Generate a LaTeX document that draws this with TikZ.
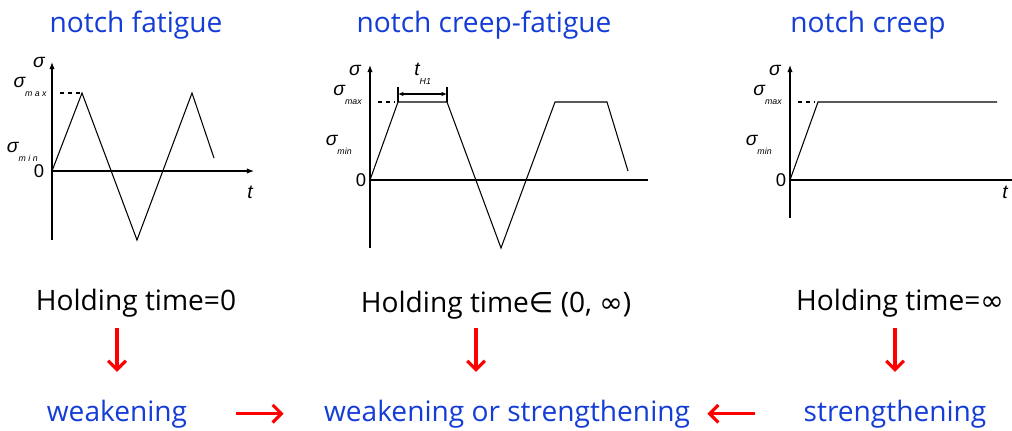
\documentclass[tikz,border=0pt]{standalone}
\usepackage{fontspec}
\setmainfont{Open Sans}
\newfontfamily\plotfont{Liberation Sans}
\newfontfamily\symfont{DejaVu Sans}
\usepackage{tikz}
\usetikzlibrary{positioning,arrows.meta}
\definecolor{titleblue}{RGB}{20,60,215}
\definecolor{arrowred}{RGB}{255,0,0}
\newcommand{\sigmasub}[1]{σ\raisebox{-0.9ex}{\fontsize{5}{6}\selectfont #1}}

\begin{document}
\begin{tikzpicture}[x=0.02cm,y=-0.02cm,
  bigtext/.style={font=\fontsize{16}{19}\selectfont,inner sep=0pt,anchor=base},
  bluetext/.style={bigtext,text=titleblue},
  axislabel/.style={font=\plotfont\itshape\fontsize{11}{13}\selectfont,inner sep=0pt,anchor=base},
  zerolabel/.style={font=\plotfont\fontsize{10.5}{12}\selectfont,inner sep=0pt},
  axis/.style={line width=0.6pt,-{Latex[length=4pt,width=3pt]}},
  wave/.style={line width=0.6pt},
  level/.style={line width=0.6pt,dash pattern=on 2.5pt off 2pt},
  redarrow/.style={draw=arrowred,line width=1.8pt,-{Straight Barb[length=5pt,width=10pt]}}]
  \useasboundingbox (0,0) rectangle (1012,430);
  % Titles
  \node[bluetext] (titlefat) at (136,32) {notch fatigue};
  \node[bluetext] (titlecf) at (484,32) {notch creep-fatigue};
  \node[bluetext] (titlecreep) at (868,32) {notch creep};
  % Plot 1: fatigue, no hold
  \begin{scope}[shift={(52,171)},yscale=-1]
    \draw[axis] (0,-69) -- (0,109);
    \draw[axis] (0,0) -- (202,0);
    \draw[wave] (0,0) -- (30,78) -- (85,-69) -- (140,78) -- (162,13);
    \draw[level] (8,78) -- (28,78);
    \node[axislabel] at (-13,104) {σ};
    \node[axislabel,anchor=base east] at (-5,84) {\sigmasub{m a x}};
    \node[axislabel,anchor=base east] at (-14,19) {\sigmasub{m i n}};
    \node[zerolabel] at (-13,0) {0};
    \node[axislabel] at (198,-27) {t};
  \end{scope}
  % Plot 2: creep-fatigue, hold at peak
  \begin{scope}[shift={(370,180)},yscale=-1]
    \draw[axis] (0,-68) -- (0,115);
    \draw[wave] (0,0) -- (278,0);
    \draw[wave] (0,0) -- (28,78) -- (77,78) -- (131,-68) -- (185,78) -- (237,78) -- (258,9);
    \draw[level] (8,78) -- (25,78);
    \draw[wave] (28,78) -- (28,93);
    \draw[wave] (77,78) -- (77,93);
    \draw[line width=0.6pt,{Latex[length=3pt,width=2.5pt]}-{Latex[length=3pt,width=2.5pt]}] (28,86) -- (77,86);
    \node[axislabel,anchor=base west] at (44,105) {t\raisebox{-0.9ex}{\fontsize{5}{6}\selectfont H1}};
    \node[axislabel] at (-15,105) {σ};
    \node[axislabel,anchor=base east] at (-8,85) {\sigmasub{max}};
    \node[axislabel,anchor=base east] at (-18,35) {\sigmasub{min}};
    \node[zerolabel] at (-9,0) {0};
  \end{scope}
  % Plot 3: creep, endless hold
  \begin{scope}[shift={(790,180)},yscale=-1]
    \draw[axis] (0,-38) -- (0,115);
    \draw[wave] (0,0) -- (222,0);
    \draw[wave] (0,0) -- (28,78) -- (207,78);
    \draw[level] (8,78) -- (25,78);
    \node[axislabel] at (-15,105) {σ};
    \node[axislabel,anchor=base east] at (-8,85) {\sigmasub{max}};
    \node[axislabel,anchor=base east] at (-18,35) {\sigmasub{min}};
    \node[zerolabel] at (-9,0) {0};
    \node[axislabel] at (215,-18) {t};
  \end{scope}
  % Holding times
  \node[bigtext] (hold1) at (136,310) {Holding time=0};
  \node[bigtext] (hold2) at (496,312) {Holding time{\symfont∈} (0, {\symfont∞})};
  \node[bigtext] (hold3) at (900,310) {Holding time={\symfont∞}};
  % Results
  \node[bluetext] (res1) at (117,421) {weakening};
  \node[bluetext] (res2) at (507,421) {weakening or strengthening};
  \node[bluetext] (res3) at (895,421) {strengthening};
  % Arrows
  \draw[redarrow,shorten <=0.22cm,shorten >=0.55cm] (res1.north |- hold1.south) -- (res1.north);
  \draw[redarrow,shorten <=0.18cm,shorten >=0.55cm] ([xshift=-0.4cm]hold2.south) -- ([xshift=-0.4cm]hold2.south |- res2.north);
  \draw[redarrow,shorten <=0.22cm,shorten >=0.55cm] (res3.north |- hold3.south) -- (res3.north);
  \draw[redarrow,shorten <=0.98cm,shorten >=0.8cm] (res1.east) -- (res2.west);
  \draw[redarrow,shorten <=0.96cm,shorten >=0.34cm] (res3.west) -- (res2.east);
\end{tikzpicture}
\end{document}
